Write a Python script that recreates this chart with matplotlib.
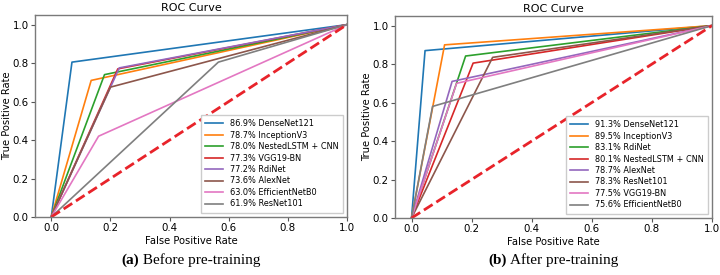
import matplotlib
matplotlib.use("Agg")
import matplotlib.pyplot as plt

# panel (a): before pre-training
labels_a = ["86.9% DenseNet121", "78.7% InceptionV3", "78.0% NestedLSTM + CNN",
            "77.3% VGG19-BN", "77.2% RdiNet", "73.6% AlexNet",
            "63.0% EfficientNetB0", "61.9% ResNet101"]
fpr_a = [0.07, 0.135, 0.18, 0.225, 0.23, 0.20, 0.16, 0.565]
tpr_a = [0.805, 0.71, 0.74, 0.77, 0.775, 0.675, 0.42, 0.805]

# panel (b): after pre-training
labels_b = ["91.3% DenseNet121", "89.5% InceptionV3", "83.1% RdiNet",
            "80.1% NestedLSTM + CNN", "78.7% AlexNet", "78.3% ResNet101",
            "77.5% VGG19-BN", "75.6% EfficientNetB0"]
fpr_b = [0.045, 0.11, 0.18, 0.205, 0.135, 0.27, 0.15, 0.07]
tpr_b = [0.87, 0.90, 0.842, 0.805, 0.71, 0.835, 0.70, 0.58]

colors = ["#1f77b4", "#ff7f0e", "#2ca02c", "#d62728",
          "#9467bd", "#8c564b", "#e377c2", "#7f7f7f"]

captions = [("(a)", " Before pre-training"), ("(b)", " After pre-training")]


def draw_panel(ax, labels, fpr, tpr):
    for lab, x, y, c in zip(labels, fpr, tpr, colors):
        ax.plot([0, x, 1], [0, y, 1], color=c, lw=1.2, label=lab)
    ax.plot([0, 1], [0, 1], color="#e8232a", lw=2, ls="--")
    ax.set_xlim(-0.055, 1.0)
    ax.set_ylim(0, 1.05)
    ax.set_title("ROC Curve", fontsize=8, pad=3)
    ax.set_xlabel("False Positive Rate", fontsize=7.2, labelpad=2)
    ax.set_ylabel("True Positive Rate", fontsize=7.2, labelpad=0.5)
    ax.tick_params(labelsize=7.4, length=3, color="#555555", pad=1.5)
    for sp in ax.spines.values():
        sp.set_color("#7a7a7a")
        sp.set_linewidth(1.0)
    leg = ax.legend(loc="lower right", fontsize=5.9, handlelength=2.2,
                    labelspacing=0.3, borderpad=0.55, fancybox=False,
                    framealpha=1)
    leg.get_frame().set_edgecolor("#cccccc")


fig = plt.figure(figsize=(7.2, 2.75), dpi=100)
ax1 = fig.add_axes([35 / 720, 58 / 275, 312 / 720, 202 / 275])
ax2 = fig.add_axes([395 / 720, 57 / 275, 317 / 720, 202 / 275])

draw_panel(ax1, labels_a, fpr_a, tpr_a)
draw_panel(ax2, labels_b, fpr_b, tpr_b)

renderer = fig.canvas.get_renderer()
for ax, (tag, text) in zip([ax1, ax2], captions):
    pos = ax.get_position()
    cx = (pos.x0 + pos.x1) / 2
    t1 = fig.text(0, 15 / 275, tag, ha="left", va="center",
                  fontsize=11, family="Liberation Serif", weight="bold")
    t2 = fig.text(0, 15 / 275, text, ha="left", va="center",
                  fontsize=11, family="Liberation Serif")
    w1 = t1.get_window_extent(renderer).width / fig.bbox.width
    w2 = t2.get_window_extent(renderer).width / fig.bbox.width
    x0 = cx - (w1 + w2) / 2
    t1.set_x(x0)
    t2.set_x(x0 + w1)

fig.savefig("out.png", dpi=100)
